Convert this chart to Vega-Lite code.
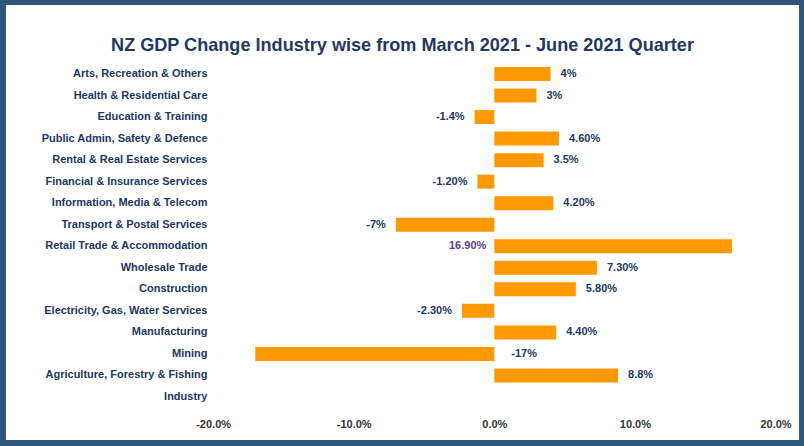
{
  "$schema": "https://vega.github.io/schema/vega-lite/v6.json",
  "width": 793,
  "height": 435,
  "autosize": {"type": "none"},
  "padding": {"left": 6, "top": 5, "right": 5, "bottom": 6},
  "background": "#30557A",
  "title": {
    "text": "NZ GDP Change Industry wise from March 2021 - June 2021 Quarter",
    "frame": "group",
    "anchor": "middle",
    "baseline": "alphabetic",
    "offset": -64,
    "font": "Liberation Sans",
    "fontSize": 18.1,
    "fontWeight": "bold",
    "color": "#1F3864"
  },
  "data": {
    "values": [
      {"industry": "Arts, Recreation & Others", "value": 0.04, "label": "4%"},
      {"industry": "Health & Residential Care", "value": 0.03, "label": "3%"},
      {"industry": "Education & Training", "value": -0.014, "label": "-1.4%"},
      {"industry": "Public Admin, Safety & Defence", "value": 0.046, "label": "4.60%"},
      {"industry": "Rental & Real Estate Services", "value": 0.035, "label": "3.5%"},
      {"industry": "Financial & Insurance Services", "value": -0.012, "label": "-1.20%"},
      {"industry": "Information, Media & Telecom", "value": 0.042, "label": "4.20%"},
      {"industry": "Transport & Postal Services", "value": -0.07, "label": "-7%"},
      {"industry": "Retail Trade & Accommodation", "value": 0.169, "label": "16.90%"},
      {"industry": "Wholesale Trade", "value": 0.073, "label": "7.30%"},
      {"industry": "Construction", "value": 0.058, "label": "5.80%"},
      {"industry": "Electricity, Gas, Water Services", "value": -0.023, "label": "-2.30%"},
      {"industry": "Manufacturing", "value": 0.044, "label": "4.40%"},
      {"industry": "Mining", "value": -0.17, "label": "-17%"},
      {"industry": "Agriculture, Forestry & Fishing", "value": 0.088, "label": "8.8%"}
    ]
  },
  "encoding": {
    "y": {
      "field": "industry",
      "type": "nominal",
      "title": null,
      "scale": {
        "domain": ["Arts, Recreation & Others", "Health & Residential Care", "Education & Training", "Public Admin, Safety & Defence", "Rental & Real Estate Services", "Financial & Insurance Services", "Information, Media & Telecom", "Transport & Postal Services", "Retail Trade & Accommodation", "Wholesale Trade", "Construction", "Electricity, Gas, Water Services", "Manufacturing", "Mining", "Agriculture, Forestry & Fishing", "Industry"],
        "range": [62, 399],
        "paddingInner": 0.35,
        "paddingOuter": 0
      },
      "axis": {
        "orient": "left",
        "offset": -203,
        "domain": false,
        "ticks": false,
        "labelPadding": 2,
        "labelFont": "Liberation Sans",
        "labelFontSize": 11,
        "labelFontWeight": "bold",
        "labelColor": "#203864",
        "labelLimit": 300
      }
    },
    "x": {
      "field": "value",
      "type": "quantitative",
      "title": null,
      "scale": {"domain": [-0.3473, 0.2167], "nice": false, "zero": false},
      "axis": {
        "orient": "bottom",
        "offset": -22,
        "values": [-0.2, -0.1, 0, 0.1, 0.2],
        "labelExpr": "replace(format(datum.value, '.1%'), '\u2212', '-')",
        "domain": false,
        "ticks": false,
        "grid": false,
        "labelPadding": 0,
        "labelFont": "Liberation Sans",
        "labelFontSize": 11,
        "labelFontWeight": "bold",
        "labelColor": "#333333",
        "labelFlush": false
      }
    }
  },
  "layer": [
    {"mark": {"type": "bar", "color": "#FF9900"}},
    {
      "transform": [{"filter": "datum.value > 0 && datum.industry != 'Retail Trade & Accommodation'"}],
      "mark": {"type": "text", "align": "left", "baseline": "middle", "dx": 10, "font": "Liberation Sans", "fontSize": 11, "fontWeight": "bold", "color": "#203864"},
      "encoding": {"text": {"field": "label"}}
    },
    {
      "transform": [{"filter": "datum.value < 0 && datum.industry != 'Mining'"}],
      "mark": {"type": "text", "align": "right", "baseline": "middle", "dx": -10, "font": "Liberation Sans", "fontSize": 11, "fontWeight": "bold", "color": "#203864"},
      "encoding": {"text": {"field": "label"}}
    },
    {
      "transform": [{"filter": "datum.industry == 'Mining'"}],
      "mark": {"type": "text", "align": "left", "baseline": "middle", "dx": 17, "font": "Liberation Sans", "fontSize": 11, "fontWeight": "bold", "color": "#203864"},
      "encoding": {"x": {"datum": 0, "type": "quantitative"}, "text": {"field": "label"}}
    },
    {
      "transform": [{"filter": "datum.industry == 'Retail Trade & Accommodation'"}],
      "mark": {"type": "text", "align": "right", "baseline": "middle", "dx": -8, "font": "Liberation Sans", "fontSize": 11, "fontWeight": "bold", "color": "#5E3B96"},
      "encoding": {"x": {"datum": 0, "type": "quantitative"}, "text": {"field": "label"}}
    }
  ],
  "config": {
    "view": {"stroke": null, "fill": "white"}
  }
}
